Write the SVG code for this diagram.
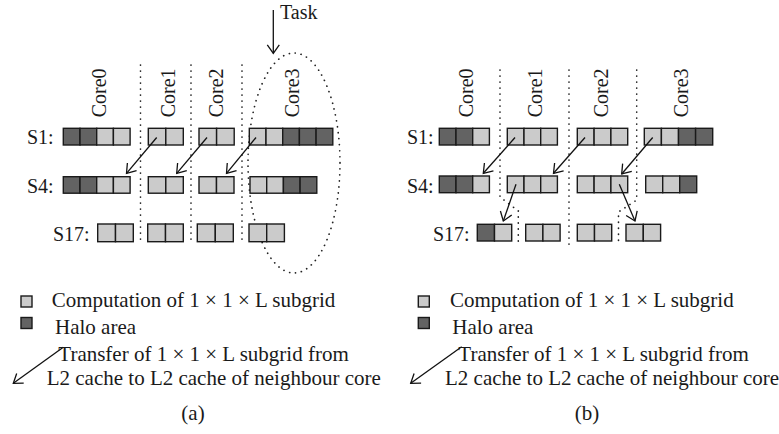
<svg xmlns="http://www.w3.org/2000/svg" width="779" height="434" viewBox="0 0 779 434">
<style>
text{font-family:"Liberation Serif","Times New Roman",serif;fill:#1a1a1a}
.lab{font-size:20px}
.leg{font-size:21px}
.L{fill:#cbcbcb;stroke:#1a1a1a;stroke-width:1.4}
.D{fill:#636363;stroke:#1a1a1a;stroke-width:1.4}
.dot{fill:none;stroke:#222;stroke-width:1.7;stroke-dasharray:0.1 5.9;stroke-linecap:round}
.arr{fill:none;stroke:#111;stroke-width:1.3;marker-end:url(#ah)}
</style>
<defs>
<marker id="ah" markerUnits="userSpaceOnUse" markerWidth="14" markerHeight="14" viewBox="-10 -7 12 14" refX="0" refY="0" orient="auto">
<path d="M-8.5,-6 L0,0 L-8.5,6" fill="none" stroke="#111" stroke-width="1.3"/>
</marker>
</defs>
<rect width="779" height="434" fill="#fff"/>

<g id="separators">
<line class="dot" x1="140.5" y1="65" x2="140.5" y2="241"/>
<line class="dot" x1="191" y1="65" x2="191" y2="241"/>
<line class="dot" x1="242" y1="65" x2="242" y2="241"/>
<ellipse id="task-ellipse" class="dot" cx="294" cy="163" rx="46" ry="110"/>
<path class="dot" d="M500,70 V197 L518.3,211 V244"/>
<line class="dot" x1="569" y1="70" x2="569" y2="246"/>
<path class="dot" d="M636.7,70 V200 L618.5,212 V244"/>
</g>

<g id="labels-a">
<text class="lab" transform="translate(106,117.3) rotate(-90)">Core0</text>
<text class="lab" transform="translate(175,117.3) rotate(-90)">Core1</text>
<text class="lab" transform="translate(222.5,117.3) rotate(-90)">Core2</text>
<text class="lab" transform="translate(299.3,117.3) rotate(-90)">Core3</text>
<text class="lab" x="27" y="144.3">S1:</text>
<text class="lab" x="27" y="193.3">S4:</text>
<text class="lab" x="53" y="241">S17:</text>
<text class="lab" x="280" y="19">Task</text>
</g>

<g id="labels-b">
<text class="lab" transform="translate(473.3,117.3) rotate(-90)">Core0</text>
<text class="lab" transform="translate(541.7,117.3) rotate(-90)">Core1</text>
<text class="lab" transform="translate(608.3,117.3) rotate(-90)">Core2</text>
<text class="lab" transform="translate(687.7,117.3) rotate(-90)">Core3</text>
<text class="lab" x="407" y="144.3">S1:</text>
<text class="lab" x="407" y="193.3">S4:</text>
<text class="lab" x="433" y="240.5">S17:</text>
</g>

<!-- (a) S1 -->
<g id="a-s1-core0">
<rect class="D" x="63.3" y="128.3" width="16.7" height="16.7"/>
<rect class="D" x="80" y="128.3" width="16.7" height="16.7"/>
<rect class="L" x="96.7" y="128.3" width="16.7" height="16.7"/>
<rect class="L" x="113.4" y="128.3" width="16.7" height="16.7"/>
</g>
<g id="a-s1-core1">
<rect class="L" x="148.3" y="128.3" width="17.5" height="16.7"/>
<rect class="L" x="165.8" y="128.3" width="17.5" height="16.7"/>
</g>
<g id="a-s1-core2">
<rect class="L" x="199" y="128.3" width="17.6" height="16.7"/>
<rect class="L" x="216.6" y="128.3" width="17.6" height="16.7"/>
</g>
<g id="a-s1-core3">
<rect class="L" x="249.3" y="128.3" width="16.7" height="16.7"/>
<rect class="L" x="266" y="128.3" width="16.7" height="16.7"/>
<rect class="D" x="282.7" y="128.3" width="16.7" height="16.7"/>
<rect class="D" x="299.4" y="128.3" width="16.7" height="16.7"/>
<rect class="D" x="316.1" y="128.3" width="16.7" height="16.7"/>
</g>
<!-- (a) S4 -->
<g id="a-s4-core0">
<rect class="D" x="63.3" y="176.7" width="16.7" height="16.5"/>
<rect class="D" x="80" y="176.7" width="16.7" height="16.5"/>
<rect class="L" x="96.7" y="176.7" width="16.7" height="16.5"/>
<rect class="L" x="113.4" y="176.7" width="16.7" height="16.5"/>
</g>
<g id="a-s4-core1">
<rect class="L" x="148.3" y="176.7" width="17.5" height="16.5"/>
<rect class="L" x="165.8" y="176.7" width="17.5" height="16.5"/>
</g>
<g id="a-s4-core2">
<rect class="L" x="199" y="176.7" width="17.5" height="16.5"/>
<rect class="L" x="216.5" y="176.7" width="17.5" height="16.5"/>
</g>
<g id="a-s4-core3">
<rect class="L" x="250" y="176.7" width="16.7" height="16.5"/>
<rect class="L" x="266.7" y="176.7" width="16.7" height="16.5"/>
<rect class="D" x="283.4" y="176.7" width="16.7" height="16.5"/>
<rect class="D" x="300.1" y="176.7" width="16.7" height="16.5"/>
</g>
<!-- (a) S17 -->
<g id="a-s17-core0">
<rect class="L" x="97.7" y="224" width="17.8" height="17.7"/>
<rect class="L" x="115.5" y="224" width="17.8" height="17.7"/>
</g>
<g id="a-s17-core1">
<rect class="L" x="147.7" y="224" width="17.8" height="17.7"/>
<rect class="L" x="165.5" y="224" width="17.8" height="17.7"/>
</g>
<g id="a-s17-core2">
<rect class="L" x="197.3" y="224" width="18" height="17.7"/>
<rect class="L" x="215.3" y="224" width="18" height="17.7"/>
</g>
<g id="a-s17-core3">
<rect class="L" x="249" y="224" width="17.7" height="17.7"/>
<rect class="L" x="266.7" y="224" width="17.7" height="17.7"/>
</g>

<!-- (b) S1 -->
<g id="b-s1-core0">
<rect class="D" x="439.3" y="128.3" width="16.7" height="16.7"/>
<rect class="D" x="456" y="128.3" width="16.7" height="16.7"/>
<rect class="L" x="472.7" y="128.3" width="16.7" height="16.7"/>
</g>
<g id="b-s1-core1">
<rect class="L" x="507.3" y="128.3" width="16.7" height="16.7"/>
<rect class="L" x="524" y="128.3" width="16.7" height="16.7"/>
<rect class="L" x="540.7" y="128.3" width="16.7" height="16.7"/>
</g>
<g id="b-s1-core2">
<rect class="L" x="577.3" y="128.3" width="16.8" height="16.7"/>
<rect class="L" x="594.1" y="128.3" width="16.8" height="16.7"/>
<rect class="L" x="610.9" y="128.3" width="16.8" height="16.7"/>
</g>
<g id="b-s1-core3">
<rect class="L" x="644.3" y="128.3" width="17.1" height="16.7"/>
<rect class="L" x="661.4" y="128.3" width="17.1" height="16.7"/>
<rect class="D" x="678.5" y="128.3" width="17.1" height="16.7"/>
<rect class="D" x="695.6" y="128.3" width="17.1" height="16.7"/>
</g>
<!-- (b) S4 -->
<g id="b-s4-core0">
<rect class="D" x="439.3" y="176" width="16.7" height="16.7"/>
<rect class="D" x="456" y="176" width="16.7" height="16.7"/>
<rect class="L" x="472.7" y="176" width="16.7" height="16.7"/>
</g>
<g id="b-s4-core1">
<rect class="L" x="507.3" y="176" width="16.7" height="16.7"/>
<rect class="L" x="524" y="176" width="16.7" height="16.7"/>
<rect class="L" x="540.7" y="176" width="16.7" height="16.7"/>
</g>
<g id="b-s4-core2">
<rect class="L" x="577.3" y="176" width="16.8" height="16.7"/>
<rect class="L" x="594.1" y="176" width="16.8" height="16.7"/>
<rect class="L" x="610.9" y="176" width="16.8" height="16.7"/>
</g>
<g id="b-s4-core3">
<rect class="L" x="645.7" y="176" width="17" height="16.7"/>
<rect class="L" x="662.7" y="176" width="17" height="16.7"/>
<rect class="D" x="679.7" y="176" width="17" height="16.7"/>
</g>
<!-- (b) S17 -->
<g id="b-s17-core0">
<rect class="D" x="477.3" y="224.3" width="17.2" height="16.7"/>
<rect class="L" x="494.5" y="224.3" width="17.2" height="16.7"/>
</g>
<g id="b-s17-core1">
<rect class="L" x="525.7" y="224.3" width="17.2" height="16.7"/>
<rect class="L" x="542.9" y="224.3" width="17.2" height="16.7"/>
</g>
<g id="b-s17-core2">
<rect class="L" x="577.3" y="224.3" width="17.2" height="16.7"/>
<rect class="L" x="594.5" y="224.3" width="17.2" height="16.7"/>
</g>
<g id="b-s17-core3">
<rect class="L" x="626" y="224.3" width="17.3" height="16.7"/>
<rect class="L" x="643.3" y="224.3" width="17.3" height="16.7"/>
</g>

<g id="connectors">
<line class="arr" x1="273.3" y1="10" x2="273.3" y2="53.3"/>
<line class="arr" x1="156.7" y1="137.5" x2="126.5" y2="173.3"/>
<line class="arr" x1="207" y1="137.5" x2="176.7" y2="173.3"/>
<line class="arr" x1="256" y1="137.5" x2="226.5" y2="173.3"/>
<line class="arr" x1="515" y1="137.5" x2="483.3" y2="173.3"/>
<line class="arr" x1="585" y1="137.5" x2="553.5" y2="173.3"/>
<line class="arr" x1="652.7" y1="137.5" x2="621.7" y2="174"/>
<line class="arr" x1="516" y1="184.3" x2="503.3" y2="221"/>
<line class="arr" x1="619.3" y1="184.3" x2="635" y2="221"/>
<line class="arr" x1="63.3" y1="347.3" x2="13.3" y2="383.3"/>
<line class="arr" x1="461.7" y1="346.7" x2="410.7" y2="383.3"/>
</g>

<g id="legend-a">
<rect class="L" x="21" y="296" width="11" height="11"/>
<rect class="D" x="21" y="317.5" width="11" height="11"/>
<text class="leg" x="51.7" y="307">Computation of 1 × 1 × L subgrid</text>
<text class="leg" x="55" y="334">Halo area</text>
<text class="leg" x="58.3" y="360.7">Transfer of 1 × 1 × L subgrid from</text>
<text class="leg" x="46.7" y="385">L2 cache to L2 cache of neighbour core</text>
<text class="leg" x="193" y="420" text-anchor="middle">(a)</text>
</g>
<g id="legend-b">
<rect class="L" x="418.3" y="296" width="11" height="11"/>
<rect class="D" x="418.3" y="317.5" width="11" height="11"/>
<text class="leg" x="450" y="307">Computation of 1 × 1 × L subgrid</text>
<text class="leg" x="452.3" y="334">Halo area</text>
<text class="leg" x="458.3" y="360.7">Transfer of 1 × 1 × L subgrid from</text>
<text class="leg" x="445" y="385">L2 cache to L2 cache of neighbour core</text>
<text class="leg" x="587" y="420" text-anchor="middle">(b)</text>
</g>
</svg>
